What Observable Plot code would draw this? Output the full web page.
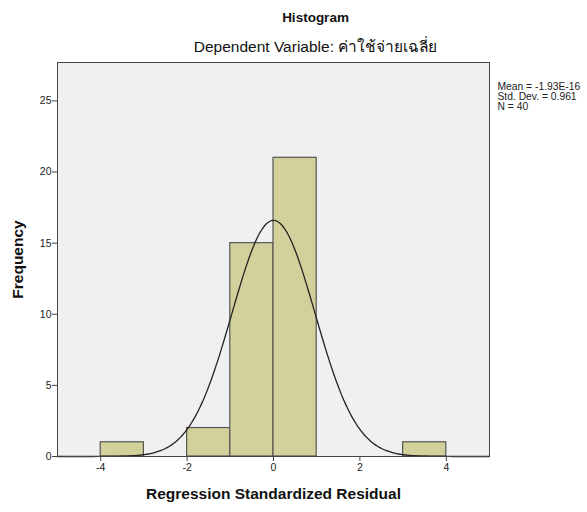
<!DOCTYPE html>
<html>
<head>
<meta charset="utf-8">
<script src="https://cdn.jsdelivr.net/npm/d3@7"></script>
<script src="https://cdn.jsdelivr.net/npm/@observablehq/plot@0.6"></script>
<style>
  body { margin: 0; background: #ffffff; }
  svg { font-family: "Liberation Sans", Arial, sans-serif; }
</style>
</head>
<body>
<div id="chart"></div>
<script>
// Histogram of regression standardized residuals (bin width 1)
const binStart = [-4, -3, -2, -1, 0, 1, 2, 3];
const binCount = [1, 0, 2, 15, 21, 0, 0, 1];
const xTicks = [-4, -2, 0, 2, 4];
const yTicks = [0, 5, 10, 15, 20, 25];

// Summary statistics shown beside the chart
const statMean = -1.93e-16;
const statSD = 0.961;
const statN = 40;
const statLines = ["Mean = -1.93E-16", "Std. Dev. = 0.961", "N = 40"];

const titleText = "Histogram";
const subtitleText = "Dependent Variable: ค่าใช้จ่ายเฉลี่ย";
const xLabel = "Regression Standardized Residual";
const yLabel = "Frequency";

const bins = binStart.map((b, i) => ({x1: b, x2: b + 1, count: binCount[i]})).filter(d => d.count > 0);

// Normal curve scaled to counts: N * binWidth * pdf(x)
const binWidth = 1;
const curve = d3.range(-5, 5.0001, 0.05).map(x => ({
  x,
  y: statN * binWidth * Math.exp(-0.5 * ((x - statMean) / statSD) ** 2) / (statSD * Math.sqrt(2 * Math.PI))
}));

// plain hyphen for negative tick labels
const fmt = d => String(d);

const chart = Plot.plot({
  width: 587,
  height: 512,
  marginLeft: 57,
  marginRight: 98,
  marginTop: 62,
  marginBottom: 56,
  style: {background: "transparent", fontFamily: "'Liberation Sans', Arial, sans-serif"},
  x: {domain: [-5, 5], label: null},
  y: {domain: [0, 27.7], label: null},
  marks: [
    Plot.frame({fill: "#f0f0f0", stroke: "none"}),
    Plot.rectY(bins, {x1: "x1", x2: "x2", y: "count", fill: "#d3d19b", stroke: "#555555", strokeWidth: 1.2}),
    Plot.line(curve, {x: "x", y: "y", stroke: "#222222", strokeWidth: 1.3, curve: "basis"}),
    Plot.frame({stroke: "#444444", strokeWidth: 1}),
    Plot.axisX({ticks: xTicks, tickFormat: fmt, tickSize: 5, tickPadding: 2, fontSize: 10.5, fill: "#222", stroke: "#444", label: null}),
    Plot.axisY({ticks: yTicks, tickFormat: fmt, tickSize: 5, tickPadding: 1, fontSize: 10.5, fill: "#222", stroke: "#444", label: null}),
    // Titles
    Plot.text([titleText], {frameAnchor: "top", dx: 42, dy: -45, lineAnchor: "middle", fontSize: 13.5, fontWeight: "bold", fill: "#111"}),
    Plot.text([subtitleText], {frameAnchor: "top", dx: 42, dy: -15, lineAnchor: "middle", fontSize: 15.5, fill: "#111"}),
    // Axis titles
    Plot.text([xLabel], {frameAnchor: "bottom", dy: 38, lineAnchor: "middle", fontSize: 15.5, fontWeight: "bold", fill: "#111"}),
    Plot.text([yLabel], {frameAnchor: "left", dx: -39, rotate: -90, textAnchor: "middle", lineAnchor: "middle", fontSize: 15.5, fontWeight: "bold", fill: "#111"}),
    // Statistics box text
    Plot.text([statLines.join("\n")], {frameAnchor: "top-right", dx: 8, dy: 21, textAnchor: "start", lineAnchor: "top", lineHeight: 0.95, fontSize: 10.3, fill: "#222"})
  ]
});

document.getElementById("chart").appendChild(chart);
</script>
</body>
</html>
